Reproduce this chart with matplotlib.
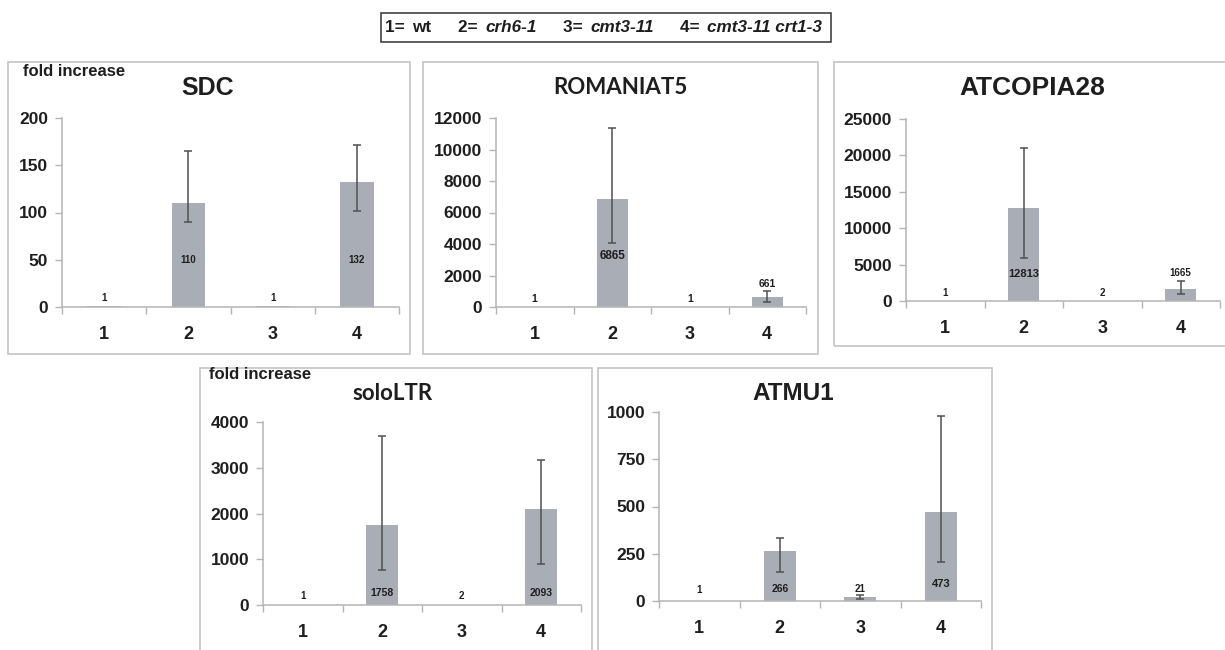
import matplotlib
matplotlib.use("Agg")
import matplotlib.pyplot as plt
from matplotlib.patches import Rectangle

# ---------------- data ----------------
categories = ["1", "2", "3", "4"]

sdc_vals = [1, 110, 1, 132]
sdc_lo = [1, 90, 1, 102]
sdc_hi = [1, 165, 1, 171]

rom_vals = [1, 6865, 1, 661]
rom_lo = [1, 4060, 1, 320]
rom_hi = [1, 11360, 1, 995]

cop_vals = [1, 12813, 2, 1665]
cop_lo = [1, 5870, 2, 920]
cop_hi = [1, 21000, 2, 2750]

solo_vals = [1, 1758, 2, 2093]
solo_lo = [1, 770, 2, 900]
solo_hi = [1, 3700, 2, 3160]

atmu_vals = [1, 266, 21, 473]
atmu_lo = [1, 155, 12, 208]
atmu_hi = [1, 335, 32, 977]

sdc_ticks = [0, 50, 100, 150, 200]
rom_ticks = [0, 2000, 4000, 6000, 8000, 10000, 12000]
cop_ticks = [0, 5000, 10000, 15000, 20000, 25000]
solo_ticks = [0, 1000, 2000, 3000, 4000]
atmu_ticks = [0, 250, 500, 750, 1000]

legend_parts = [("1= ", "wt", False), ("2= ", "crh6-1", True),
                ("3= ", "cmt3-11", True), ("4= ", "cmt3-11 crt1-3", True)]

# ---------------- layout ----------------
W, H = 1225, 650
fig = plt.figure(figsize=(W / 100, H / 100), dpi=100)
fig.patch.set_facecolor("white")

BAR_COLOR = "#a9adb5"
AX_COLOR = "#b4b4b4"
TXT = "#1e1e1e"
ERR = "#505050"


def fx(x):
    return x / W


def fy(y):
    return 1 - y / H


def box(x0, y0, x1, y1, color="#c4c4c4", lw=1.2):
    fig.patches.append(Rectangle((fx(x0), fy(y1)), fx(x1 - x0), (y1 - y0) / H,
                                 transform=fig.transFigure, fill=False,
                                 edgecolor=color, lw=lw, clip_on=False))


def panel(x0, y0, x1, y1, vals, lo, hi, ticks, title, title_xy, title_font,
          title_size, label_fracs, label_sizes):
    ax = fig.add_axes([fx(x0), fy(y1), fx(x1 - x0), (y1 - y0) / H])
    xs = range(1, len(categories) + 1)
    yerr = [[v - l for v, l in zip(vals, lo)], [h - v for v, h in zip(vals, hi)]]
    ax.bar(xs, vals, width=0.4, color=BAR_COLOR, zorder=2)
    big = [i for i, v in enumerate(vals) if (hi[i] - lo[i]) > 0]
    ax.errorbar([i + 1 for i in big], [vals[i] for i in big],
                yerr=[[yerr[0][i] for i in big], [yerr[1][i] for i in big]],
                fmt="none", ecolor=ERR, elinewidth=1.1, capsize=3,
                capthick=1.1, zorder=3)
    ax.set_xlim(0.5, 4.5)
    ax.set_ylim(ticks[0], ticks[-1])
    ax.set_yticks(ticks)
    ax.set_yticklabels([str(t) for t in ticks], fontsize=12.5, fontweight="bold",
                       color=TXT, family="Liberation Sans")
    ax.set_xticks([0.5, 1.5, 2.5, 3.5, 4.5])
    ax.set_xticklabels([])
    ax.set_xticks(list(xs), minor=True)
    ax.set_xticklabels(categories, minor=True, fontsize=13, fontweight="bold",
                       color=TXT, family="Liberation Sans")
    ax.tick_params(axis="x", which="minor", length=0, pad=14)
    ax.tick_params(axis="x", which="major", length=5, color=AX_COLOR, width=1)
    ax.tick_params(axis="y", length=5, color=AX_COLOR, width=1, pad=5)
    for s in ["top", "right"]:
        ax.spines[s].set_visible(False)
    for s in ["left", "bottom"]:
        ax.spines[s].set_color(AX_COLOR)
        ax.spines[s].set_linewidth(1.1)
    ax.patch.set_alpha(0)
    for i, v in enumerate(vals):
        ax.text(i + 1, label_fracs[i], str(v), transform=ax.get_xaxis_transform(),
                ha="center", va="center", fontsize=label_sizes[i],
                fontweight="bold", color=TXT, family="Liberation Sans", zorder=4)
    fig.text(fx(title_xy[0]), fy(title_xy[1]), title, ha="center", va="center",
             fontsize=title_size, fontweight="bold", color=TXT, family=title_font)
    return ax


# panel boxes
box(8, 62, 410, 354)
box(423, 62, 818, 354)
box(834, 62, 1232, 346)
box(200, 368, 592, 652)
box(598, 368, 992, 652)

panel(62, 118, 399, 307, sdc_vals, sdc_lo, sdc_hi, sdc_ticks, "SDC", (208, 88),
      "Liberation Sans", 18, [0.05, 0.25, 0.05, 0.25], [7, 7, 7, 7])
panel(496, 118, 806, 307, rom_vals, rom_lo, rom_hi, rom_ticks, "ROMANIAT5", (620, 88),
      "Lato", 16, [0.04, 0.27, 0.04, 0.12], [7.5, 8.5, 7.5, 7.5])
panel(906, 119, 1220, 301, cop_vals, cop_lo, cop_hi, cop_ticks, "ATCOPIA28", (1032, 88),
      "Liberation Sans", 19, [0.045, 0.147, 0.045, 0.156], [7, 8, 7, 7])
panel(263, 422, 581, 605, solo_vals, solo_lo, solo_hi, solo_ticks, "soloLTR", (393, 393),
      "Lato", 16, [0.05, 0.064, 0.05, 0.064], [7, 7.5, 7, 7.5])
panel(659, 412, 981, 601, atmu_vals, atmu_lo, atmu_hi, atmu_ticks, "ATMU1", (793, 393),
      "Liberation Sans", 17.5, [0.058, 0.062, 0.066, 0.088], [7, 7.5, 7, 8])

# y axis caption
fig.text(fx(23), fy(72), "fold increase", ha="left", va="center", fontsize=12,
         fontweight="bold", color=TXT, family="Liberation Sans")
fig.text(fx(209), fy(375), "fold increase", ha="left", va="center", fontsize=12,
         fontweight="bold", color=TXT, family="Liberation Sans")

# legend box
box(381, 13, 831, 42, color="#333333", lw=1.1)
legend_x = [385, 458, 563, 680]
rend = fig.canvas.get_renderer()
for (num, name, ital), x in zip(legend_parts, legend_x):
    t = fig.text(fx(x), fy(27.5), num, ha="left", va="center", fontsize=12.3,
                 fontweight="bold", color=TXT, family="Liberation Sans")
    bb = t.get_window_extent(renderer=rend)
    fig.text(bb.x1 / W + fx(3), fy(27.5), name, ha="left", va="center", fontsize=12.3,
             fontweight="bold", fontstyle="italic" if ital else "normal",
             color=TXT, family="Liberation Sans")

fig.savefig("out.png", dpi=100, facecolor="white")
